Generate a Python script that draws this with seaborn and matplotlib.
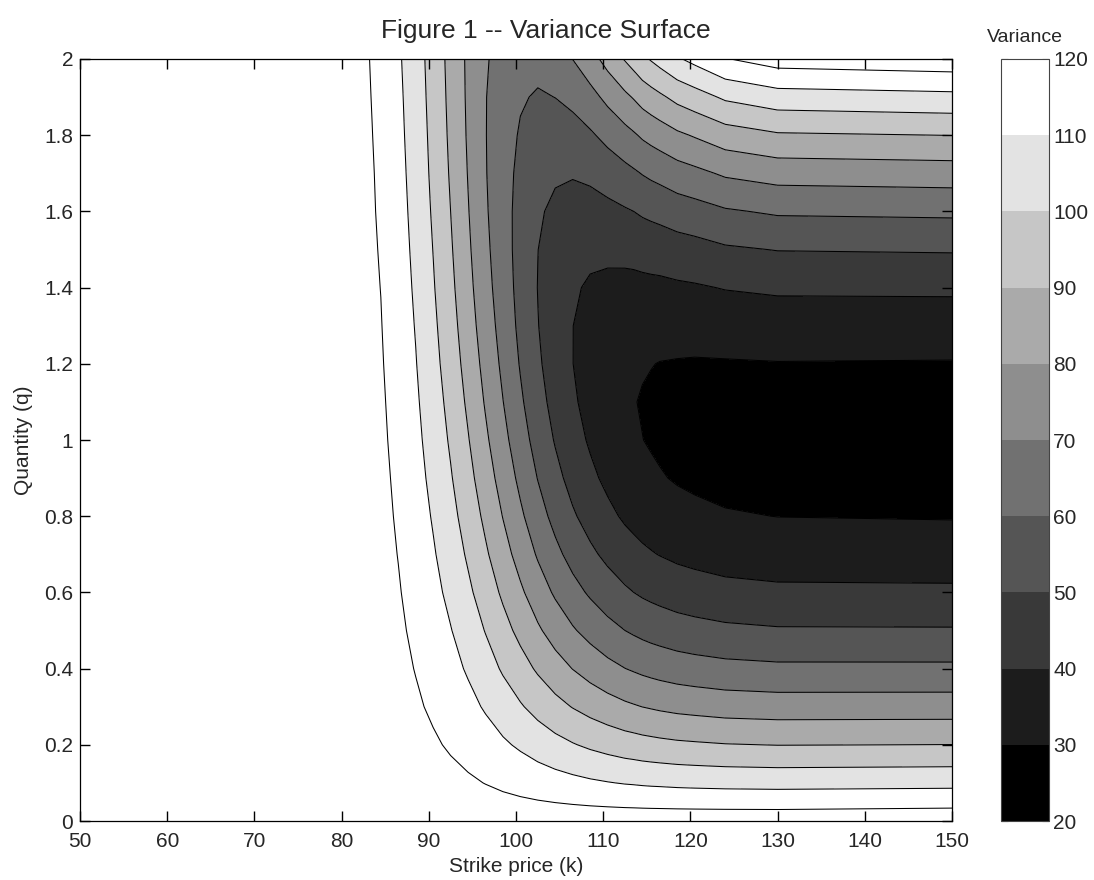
import matplotlib
matplotlib.use("Agg")
import matplotlib.pyplot as plt
import matplotlib as mpl
import numpy as np
import seaborn as sns

# strike price columns (k) and quantity rows (q) of the variance grid
strike = [50, 80.5, 82.5, 83.5, 84.5, 85.5, 86.5, 88.5, 90.5, 92.5, 94.5, 96.5, 98.5, 100.5,
          102.5, 104.5, 106.5, 108.5, 110.5, 112.5, 113.5, 114.5, 115.5, 116.5, 118.5,
          120.5, 124, 130, 150]
quantity = [0.0, 0.1, 0.2, 0.3, 0.4, 0.5, 0.6, 0.7, 0.8, 0.9, 1.0,
            1.1, 1.2, 1.3, 1.4, 1.5, 1.6, 1.7, 1.8, 1.9, 2.0]

# variance, one list per strike column (q = 0 .. 2)
variance_by_strike = [
    [125.7] * 21,
    [125.7, 125.6, 125.5, 125.5, 125.4, 125.3, 125.2, 125.2, 125.1, 125.0, 124.9, 124.8, 124.8, 124.7, 124.6, 124.6, 124.5, 124.4, 124.3, 124.3, 124.2],
    [125.7, 125.5, 125.2, 125.0, 124.8, 124.5, 124.3, 124.1, 123.8, 123.6, 123.4, 123.2, 122.9, 122.7, 122.5, 122.3, 122.1, 121.9, 121.6, 121.4, 121.2],
    [125.7, 125.4, 125.0, 124.7, 124.4, 124.0, 123.7, 123.4, 123.1, 122.8, 122.5, 122.1, 121.8, 121.5, 121.2, 120.9, 120.6, 120.4, 120.1, 119.8, 119.5],
    [125.7, 125.3, 124.8, 124.4, 123.9, 123.5, 123.1, 122.7, 122.3, 121.9, 121.5, 121.1, 120.7, 120.3, 119.9, 119.5, 119.1, 118.8, 118.4, 118.1, 117.7],
    [125.7, 125.1, 124.4, 123.8, 123.1, 122.5, 121.9, 121.3, 120.7, 120.2, 119.6, 119.1, 118.5, 118.0, 117.4, 116.9, 116.4, 115.9, 115.4, 115.0, 114.5],
    [125.7, 124.8, 123.9, 123.1, 122.2, 121.4, 120.6, 119.8, 119.1, 118.3, 117.6, 116.9, 116.2, 115.5, 114.9, 114.2, 113.6, 113.0, 112.4, 111.9, 111.3],
    [125.7, 124.1, 122.6, 121.1, 119.7, 118.4, 117.1, 115.8, 114.6, 113.5, 112.4, 111.4, 110.4, 109.5, 108.6, 107.8, 107.0, 106.3, 105.7, 105.1, 104.5],
    [125.7, 123.3, 121.0, 118.8, 116.7, 114.7, 112.7, 110.9, 109.2, 107.5, 106.0, 104.6, 103.2, 102.0, 100.8, 99.8, 98.8, 97.9, 97.2, 96.5, 95.9],
    [125.7, 122.3, 119.1, 116.0, 113.1, 110.4, 107.7, 105.3, 103.0, 100.8, 98.8, 97.0, 95.2, 93.7, 92.3, 91.1, 90.0, 89.0, 88.2, 87.6, 87.1],
    [125.7, 121.2, 116.9, 112.8, 108.9, 105.3, 101.9, 98.7, 95.8, 93.1, 90.6, 88.3, 86.3, 84.5, 82.9, 81.6, 80.5, 79.6, 78.9, 78.5, 78.3],
    [125.7, 119.8, 114.3, 109.0, 104.1, 99.6, 95.3, 91.4, 87.9, 84.6, 81.7, 79.1, 76.9, 74.9, 73.3, 72.1, 71.1, 70.5, 70.3, 70.3, 70.7],
    [125.7, 118.3, 111.4, 104.9, 98.9, 93.4, 88.4, 83.8, 79.7, 76.1, 72.9, 70.2, 68.0, 66.3, 65.0, 64.2, 63.9, 64.0, 64.6, 65.7, 67.3],
    [125.7, 116.8, 108.6, 100.9, 93.8, 87.4, 81.6, 76.3, 71.7, 67.7, 64.3, 61.5, 59.3, 57.7, 56.8, 56.4, 56.6, 57.5, 59.0, 61.0, 63.7],
    [125.7, 115.3, 105.7, 96.8, 88.7, 81.4, 74.8, 69.0, 64.0, 59.7, 56.2, 53.5, 51.5, 50.3, 49.8, 50.1, 51.2, 53.0, 55.6, 59.0, 63.1],
    [125.7, 113.9, 103.0, 93.0, 84.0, 75.9, 68.7, 62.5, 57.1, 52.8, 49.3, 46.8, 45.2, 44.5, 44.8, 46.0, 48.1, 51.2, 55.1, 60.1, 65.9],
    [125.7, 112.6, 100.6, 89.6, 79.8, 71.0, 63.3, 56.7, 51.2, 46.8, 43.5, 41.3, 40.1, 40.1, 41.1, 43.2, 46.4, 50.7, 56.1, 62.5, 70.1],
    [125.7, 111.4, 98.4, 86.6, 76.1, 66.8, 58.7, 51.9, 46.3, 42.0, 38.9, 37.0, 36.4, 37.0, 38.9, 42.0, 46.3, 51.9, 58.7, 66.8, 76.1],
    [125.7, 110.4, 96.5, 84.0, 72.8, 63.1, 54.7, 47.8, 42.2, 38.0, 35.2, 33.8, 33.8, 35.1, 37.9, 42.0, 47.5, 54.4, 62.7, 72.4, 83.5],
    [125.7, 109.5, 94.8, 81.7, 70.1, 60.0, 51.4, 44.3, 38.7, 34.7, 32.2, 31.2, 31.7, 33.8, 37.4, 42.5, 49.1, 57.2, 66.8, 78.0, 90.7],
    [125.7, 109.2, 94.2, 80.8, 69.0, 58.7, 50.0, 42.9, 37.4, 33.5, 31.1, 30.3, 31.1, 33.5, 37.4, 42.9, 50.0, 58.7, 68.9, 80.7, 94.1],
    [125.7, 108.8, 93.5, 79.9, 67.9, 57.5, 48.7, 41.6, 36.2, 32.3, 30.1, 29.5, 30.6, 33.3, 37.6, 43.6, 51.2, 60.4, 71.3, 83.8, 97.9],
    [125.7, 108.5, 93.0, 79.2, 67.0, 56.5, 47.7, 40.6, 35.2, 31.4, 29.3, 28.9, 30.2, 33.1, 37.8, 44.1, 52.1, 61.8, 73.1, 86.1, 100.8],
    [125.7, 108.3, 92.5, 78.5, 66.2, 55.7, 46.8, 39.7, 34.3, 30.6, 28.6, 28.4, 29.8, 33.0, 37.9, 44.6, 52.9, 63.0, 74.8, 88.3, 103.5],
    [125.7, 107.8, 91.7, 77.4, 64.9, 54.2, 45.3, 38.2, 32.9, 29.3, 27.6, 27.7, 29.5, 33.2, 38.6, 45.8, 54.9, 65.7, 78.3, 92.7, 108.9],
    [125.7, 107.5, 91.2, 76.7, 64.0, 53.2, 44.3, 37.2, 31.9, 28.5, 26.9, 27.2, 29.3, 33.3, 39.1, 46.7, 56.2, 67.6, 80.8, 95.8, 112.7],
    [125.7, 107.1, 90.4, 75.6, 62.8, 51.9, 42.9, 35.8, 30.7, 27.5, 26.2, 26.9, 29.4, 34.0, 40.4, 48.8, 59.0, 71.3, 85.4, 101.5, 119.5],
    [125.7, 106.8, 89.8, 74.9, 61.9, 50.9, 41.9, 34.9, 29.9, 26.9, 25.8, 26.7, 29.7, 34.6, 41.5, 50.3, 61.2, 74.0, 88.9, 105.7, 124.5],
    [126.5, 107.3, 90.1, 75.0, 61.9, 50.8, 41.7, 34.6, 29.5, 26.5, 25.5, 26.5, 29.5, 34.6, 41.7, 50.8, 61.9, 75.0, 90.1, 107.3, 126.5],
]

levels = [20, 30, 40, 50, 60, 70, 80, 90, 100, 110, 120, 130]
band_grays = ['#000000', '#1c1c1c', '#393939', '#555555', '#717171',
              '#8e8e8e', '#aaaaaa', '#c6c6c6', '#e3e3e3', '#ffffff']
cbar_ticks = [20, 30, 40, 50, 60, 70, 80, 90, 100, 110, 120]
xticks = [50, 60, 70, 80, 90, 100, 110, 120, 130, 140, 150]
yticks = [0, 0.2, 0.4, 0.6, 0.8, 1.0, 1.2, 1.4, 1.6, 1.8, 2.0]
ytick_labels = ['0', '0.2', '0.4', '0.6', '0.8', '1', '1.2', '1.4', '1.6', '1.8', '2']

sns.set_style("ticks", {"xtick.direction": "in", "ytick.direction": "in"})
plt.rcParams['font.family'] = ['Liberation Sans', 'DejaVu Sans']

fig = plt.figure(figsize=(10.94, 8.8), dpi=100)
ax = fig.add_axes([80 / 1094, 59 / 880, 872 / 1094, 762 / 880])

Z = np.array(variance_by_strike).T
ax.contourf(strike, quantity, Z, levels=levels, colors=band_grays + ['#ffffff'], zorder=0)
ax.contour(strike, quantity, Z, levels=levels[1:-1], colors='k', linewidths=0.75, zorder=1)

ax.set_xlim(50, 150)
ax.set_ylim(0, 2)
ax.set_xticks(xticks)
ax.set_yticks(yticks)
ax.set_yticklabels(ytick_labels)
ax.set_axisbelow(False)
ax.tick_params(axis='both', direction='in', bottom=True, left=True, top=True, right=True,
               length=7, width=1.0, labelsize=15, color='k')
ax.tick_params(axis='x', pad=8)
ax.tick_params(axis='y', pad=5)
for s in ax.spines.values():
    s.set_linewidth(0.9)
    s.set_color('k')
    s.set_zorder(5)
ax.set_xlabel("Strike price (k)", fontsize=15, labelpad=4)
ax.set_ylabel("Quantity (q)", fontsize=15, labelpad=8)
fig.text(546 / 1094, 1 - 31 / 880, "Figure 1 -- Variance Surface", fontsize=19,
         ha='center', va='center')

cax = fig.add_axes([1001 / 1094, 59 / 880, 48 / 1094, 762 / 880])
cmap = mpl.colors.ListedColormap(band_grays)
norm = mpl.colors.BoundaryNorm(cbar_ticks, cmap.N)
cb = fig.colorbar(mpl.cm.ScalarMappable(norm=norm, cmap=cmap), cax=cax, ticks=cbar_ticks)
cb.outline.set_edgecolor('#444444')
cb.outline.set_linewidth(0.8)
cax.tick_params(direction='in', length=5, width=0.8, left=True, right=True,
                labelsize=15, pad=3, color='#333333')
cax.set_title("Variance", fontsize=14, pad=12)

fig.savefig("out.png", dpi=100)
